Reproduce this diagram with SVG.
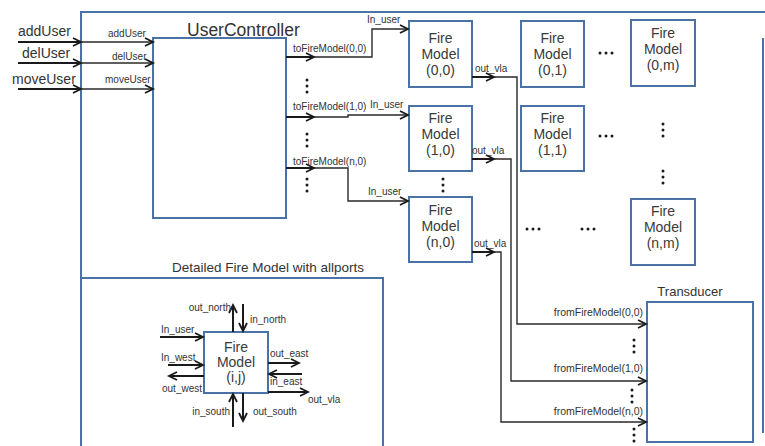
<svg xmlns="http://www.w3.org/2000/svg" width="765" height="446" viewBox="0 0 765 446">
  <style>
    .frame { fill: none; stroke: #4a72a6; stroke-width: 2; }
    .box { fill: #ffffff; stroke: #4a72a6; stroke-width: 2; }
    .wire { fill: none; stroke: #2a2a2a; stroke-width: 1.4; }
    .stub { fill: none; stroke: #1a1a1a; stroke-width: 2; }
    .t { font-family: "Liberation Sans", Arial, sans-serif; fill: #333333; }
    .big { font-size: 14px; }
    .title { font-size: 17.5px; }
    .node { font-size: 14px; text-anchor: middle; fill: #3a3a3a; }
    .small { font-size: 10px; }
    .port { font-size: 10.5px; }
    .dot { fill: #1a1a1a; }
  </style>
  <defs>
    <marker id="arr" markerUnits="userSpaceOnUse" markerWidth="12" markerHeight="12" refX="9" refY="5" orient="auto">
      <path d="M1,1 L9,5 L1,9" fill="none" stroke="#1a1a1a" stroke-width="1.8"/>
    </marker>
    <g id="hdots">
      <circle cx="-6" cy="0" r="1.5"/>
      <circle cx="0" cy="0" r="1.5"/>
      <circle cx="6" cy="0" r="1.5"/>
    </g>
    <g id="vdots">
      <circle cx="0" cy="-6" r="1.5"/>
      <circle cx="0" cy="0" r="1.5"/>
      <circle cx="0" cy="6" r="1.5"/>
    </g>
  </defs>

  <rect width="765" height="446" fill="#ffffff"/>

  <!-- outer frame and detail panel -->
  <g id="frame">
    <path class="frame" d="M81,446 V12 H765"/>
    <path class="frame" d="M763,38 V433" stroke="#a9bedb"/>
    <path class="frame" d="M81,278 H383 V446"/>
    <text class="t" x="172" y="272" font-size="13.5">Detailed Fire Model with allports</text>
  </g>

  <!-- UserController -->
  <g id="userController">
    <rect class="box" x="153" y="38" width="133" height="180"/>
    <text class="t title" x="187" y="36">UserController</text>
  </g>

  <!-- Fire model grid -->
  <g id="fm00">
    <rect class="box" x="409" y="21" width="63" height="66"/>
    <text class="t node" x="440.5" y="43">Fire</text>
    <text class="t node" x="440.5" y="59">Model</text>
    <text class="t node" x="440.5" y="75">(0,0)</text>
  </g>
  <g id="fm01">
    <rect class="box" x="521" y="21" width="63" height="66"/>
    <text class="t node" x="552.5" y="43">Fire</text>
    <text class="t node" x="552.5" y="59">Model</text>
    <text class="t node" x="552.5" y="75">(0,1)</text>
  </g>
  <g id="fm0m">
    <rect class="box" x="631" y="20" width="64" height="66"/>
    <text class="t node" x="663" y="38">Fire</text>
    <text class="t node" x="663" y="54">Model</text>
    <text class="t node" x="663" y="70">(0,m)</text>
  </g>
  <g id="fm10">
    <rect class="box" x="409" y="106" width="63" height="65"/>
    <text class="t node" x="440.5" y="123">Fire</text>
    <text class="t node" x="440.5" y="139">Model</text>
    <text class="t node" x="440.5" y="155">(1,0)</text>
  </g>
  <g id="fm11">
    <rect class="box" x="521" y="106" width="63" height="65"/>
    <text class="t node" x="552.5" y="123">Fire</text>
    <text class="t node" x="552.5" y="139">Model</text>
    <text class="t node" x="552.5" y="155">(1,1)</text>
  </g>
  <g id="fmn0">
    <rect class="box" x="409" y="197" width="63" height="65"/>
    <text class="t node" x="440.5" y="215">Fire</text>
    <text class="t node" x="440.5" y="231">Model</text>
    <text class="t node" x="440.5" y="247">(n,0)</text>
  </g>
  <g id="fmnm">
    <rect class="box" x="631" y="199" width="64" height="66"/>
    <text class="t node" x="663" y="216">Fire</text>
    <text class="t node" x="663" y="232">Model</text>
    <text class="t node" x="663" y="248">(n,m)</text>
  </g>

  <!-- Transducer -->
  <g id="transducer">
    <rect class="box" x="647" y="302" width="106" height="140"/>
    <text class="t" x="690" y="296" font-size="13" text-anchor="middle">Transducer</text>
  </g>

  <!-- Detailed fire model (i,j) -->
  <g id="fmij">
    <rect class="box" x="204" y="332" width="64" height="61"/>
    <text class="t node" x="236" y="352">Fire</text>
    <text class="t node" x="236" y="367">Model</text>
    <text class="t node" x="236" y="382">(i,j)</text>
  </g>

  <!-- ellipsis marks -->
  <g id="ellipses" class="dot">
    <use href="#vdots" x="307" y="86"/>
    <use href="#vdots" x="307" y="140"/>
    <use href="#vdots" x="307" y="185"/>
    <use href="#hdots" x="606" y="53"/>
    <use href="#hdots" x="606" y="136"/>
    <use href="#vdots" x="663" y="130"/>
    <use href="#vdots" x="663" y="177"/>
    <use href="#vdots" x="443" y="185"/>
    <use href="#hdots" x="533" y="229"/>
    <use href="#hdots" x="588" y="229"/>
    <use href="#vdots" x="634" y="346"/>
    <use href="#vdots" x="632" y="396"/>
    <use href="#vdots" x="634" y="435"/>
  </g>

  <!-- connectors -->
  <g id="connectors">
    <!-- external inputs -->
    <line class="stub" x1="18" y1="42" x2="81" y2="42" marker-end="url(#arr)"/>
    <line class="wire" x1="81" y1="42" x2="153" y2="42" marker-end="url(#arr)"/>
    <line class="stub" x1="18" y1="63" x2="81" y2="63" marker-end="url(#arr)"/>
    <line class="wire" x1="81" y1="63" x2="153" y2="63" marker-end="url(#arr)"/>
    <line class="stub" x1="18" y1="89" x2="81" y2="89" marker-end="url(#arr)"/>
    <line class="wire" x1="81" y1="89" x2="153" y2="89" marker-end="url(#arr)"/>

    <!-- controller to fire models -->
    <line class="stub" x1="286" y1="57" x2="314" y2="57" marker-end="url(#arr)"/>
    <polyline class="wire" points="314,57 372,57 372,29 408,29" marker-end="url(#arr)"/>
    <line class="stub" x1="286" y1="117" x2="314" y2="117" marker-end="url(#arr)"/>
    <polyline class="wire" points="314,117 348,117 348,115 408,115" marker-end="url(#arr)"/>
    <line class="stub" x1="286" y1="168" x2="314" y2="168" marker-end="url(#arr)"/>
    <polyline class="wire" points="314,168 348,168 348,201 408,201" marker-end="url(#arr)"/>

    <!-- fire models to transducer -->
    <line class="stub" x1="472" y1="77" x2="494" y2="77" marker-end="url(#arr)"/>
    <polyline class="wire" points="494,77 517,77 517,324 646,324" marker-end="url(#arr)"/>
    <line class="stub" x1="472" y1="159" x2="494" y2="159" marker-end="url(#arr)"/>
    <polyline class="wire" points="494,159 511,159 511,381 646,381" marker-end="url(#arr)"/>
    <line class="stub" x1="472" y1="252" x2="494" y2="252" marker-end="url(#arr)"/>
    <polyline class="wire" points="494,252 501,252 501,422 646,422" marker-end="url(#arr)"/>

    <!-- detailed ports -->
    <line class="stub" x1="233" y1="332" x2="233" y2="305" marker-end="url(#arr)"/>
    <line class="stub" x1="243" y1="304" x2="243" y2="331" marker-end="url(#arr)"/>
    <line class="stub" x1="160" y1="337" x2="203" y2="337" marker-end="url(#arr)"/>
    <line class="stub" x1="168" y1="365" x2="203" y2="365" marker-end="url(#arr)"/>
    <line class="stub" x1="204" y1="376" x2="169" y2="376" marker-end="url(#arr)"/>
    <line class="stub" x1="268" y1="363" x2="299" y2="363" marker-end="url(#arr)"/>
    <line class="stub" x1="302" y1="374" x2="269" y2="374" marker-end="url(#arr)"/>
    <line class="stub" x1="268" y1="392" x2="308" y2="392" marker-end="url(#arr)"/>
    <line class="stub" x1="233" y1="427" x2="233" y2="394" marker-end="url(#arr)"/>
    <line class="stub" x1="243" y1="393" x2="243" y2="421" marker-end="url(#arr)"/>
  </g>

  <!-- port labels -->
  <g id="labels">
    <text class="t big" x="18" y="36">addUser</text>
    <text class="t big" x="22" y="58">delUser</text>
    <text class="t big" x="12" y="84">moveUser</text>
    <text class="t small" x="108" y="37">addUser</text>
    <text class="t small" x="112" y="60">delUser</text>
    <text class="t small" x="105" y="83">moveUser</text>

    <text class="t small" x="293" y="52">toFireModel(0,0)</text>
    <text class="t small" x="293" y="110">toFireModel(1,0)</text>
    <text class="t small" x="293" y="165">toFireModel(n,0)</text>
    <text class="t small" x="367" y="23">In_user</text>
    <text class="t small" x="370" y="108">In_user</text>
    <text class="t small" x="368" y="195">In_user</text>

    <text class="t small" x="475" y="72">out_vla</text>
    <text class="t small" x="472" y="154">out_vla</text>
    <text class="t small" x="474" y="247">out_vla</text>

    <text class="t port" x="643" y="316" text-anchor="end">fromFireModel(0,0)</text>
    <text class="t port" x="643" y="372" text-anchor="end">fromFireModel(1,0)</text>
    <text class="t port" x="643" y="415" text-anchor="end">fromFireModel(n,0)</text>

    <text class="t small" x="231" y="311" text-anchor="end">out_north</text>
    <text class="t small" x="250" y="323">in_north</text>
    <text class="t small" x="161" y="333">In_user</text>
    <text class="t small" x="161" y="361">In_west</text>
    <text class="t small" x="162" y="392">out_west</text>
    <text class="t small" x="270" y="357">out_east</text>
    <text class="t small" x="270" y="385">in_east</text>
    <text class="t small" x="308" y="403">out_vla</text>
    <text class="t small" x="230" y="415" text-anchor="end">in_south</text>
    <text class="t small" x="253" y="415">out_south</text>
  </g>
</svg>
